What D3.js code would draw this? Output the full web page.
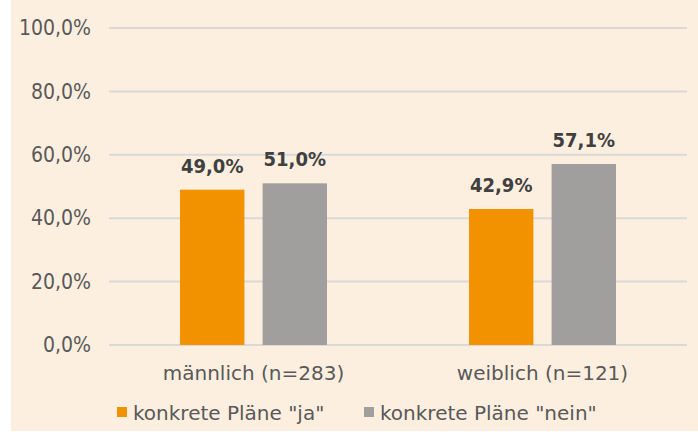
<!DOCTYPE html>
<html><head><meta charset="utf-8">
<script src="https://cdn.jsdelivr.net/npm/d3@7"></script>
<style>body{margin:0;background:#fff}svg{display:block}</style>
</head><body>
<script>
const categories = ["männlich (n=283)", "weiblich (n=121)"];
const seriesNames = ['konkrete Pläne "ja"', 'konkrete Pläne "nein"'];
const valuesJa = [49.0, 42.9];
const valuesNein = [51.0, 57.1];
const yTicks = [0, 20, 40, 60, 80, 100];
const colors = ["#F39200", "#A09F9E"];

const W = 698, H = 434;
const font = "'DejaVu Sans',sans-serif";
const fontC = "'DejaVu Sans Condensed','DejaVu Sans',sans-serif";
const svg = d3.select("body").append("svg").attr("width", W).attr("height", H);
svg.append("rect").attr("x", 11).attr("y", 0).attr("width", W - 11).attr("height", 431).attr("fill", "#FDEFDF");

const x0 = d3.scaleBand().domain(categories).range([109, 687]);
const x1 = d3.scaleBand().domain(seriesNames).range([0, 147]).paddingInner(0.22);
const y = d3.scaleLinear().domain([0, 100]).range([345, 28]);

const fmt = v => d3.format(".1f")(v).replace(".", ",") + "%";

// gridlines
svg.append("g").selectAll("line").data(yTicks).join("line")
  .attr("x1", 109).attr("x2", 687).attr("y1", d => y(d)).attr("y2", d => y(d))
  .attr("stroke", "#D9D9D9").attr("stroke-width", 2);

// y axis labels
const yAxis = d3.axisLeft(y).tickValues(yTicks).tickFormat(fmt).tickSize(0).tickPadding(0);
const ya = svg.append("g").attr("transform", "translate(91,0)").call(yAxis);
ya.select(".domain").remove();
ya.selectAll("text").attr("font-family", fontC).attr("font-size", 21).attr("fill", "#595959");

const data = categories.map((c, i) => ({cat: c, vals: [
  {s: seriesNames[0], v: valuesJa[i], c: colors[0]},
  {s: seriesNames[1], v: valuesNein[i], c: colors[1]}]}));

const groups = svg.append("g").selectAll("g").data(data).join("g")
  .attr("transform", d => `translate(${x0(d.cat) + (x0.bandwidth() - 147) / 2},0)`);
groups.selectAll("rect").data(d => d.vals).join("rect")
  .attr("x", d => x1(d.s)).attr("width", x1.bandwidth())
  .attr("y", d => y(d.v)).attr("height", d => y(0) - y(d.v))
  .attr("fill", d => d.c);
groups.selectAll("text").data(d => d.vals).join("text")
  .attr("x", d => x1(d.s) + x1.bandwidth() / 2).attr("y", d => y(d.v) - 17)
  .attr("text-anchor", "middle").attr("font-family", fontC).attr("font-size", 20)
  .attr("font-weight", "bold").attr("fill", "#404040").text(d => fmt(d.v));

// x axis labels
const xAxis = d3.axisBottom(x0).tickSize(0).tickPadding(0);
const xa = svg.append("g").attr("transform", "translate(0,380)").call(xAxis);
xa.select(".domain").remove();
xa.selectAll("text").attr("font-family", font).attr("font-size", 20).attr("fill", "#595959").attr("dy", 0);

// legend
const legX = [117, 364];
const leg = svg.append("g").selectAll("g").data(seriesNames).join("g")
  .attr("transform", (d, i) => `translate(${legX[i]},407)`);
leg.append("rect").attr("width", 10).attr("height", 10).attr("fill", (d, i) => colors[i]);
leg.append("text").attr("x", 16).attr("y", 13).attr("font-family", font).attr("font-size", 20)
  .attr("fill", "#595959").text(d => d);
</script>
</body></html>
